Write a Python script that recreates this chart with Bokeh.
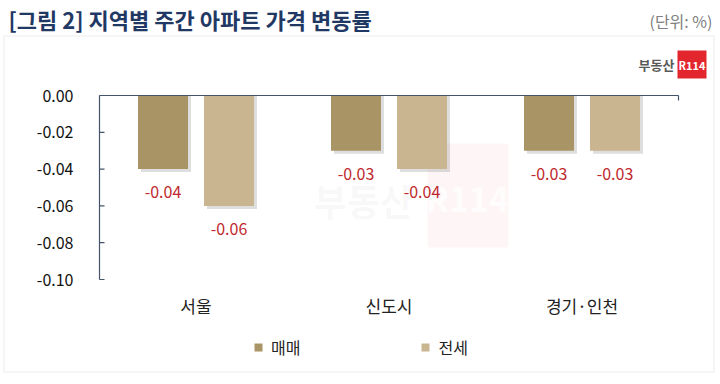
from bokeh.plotting import figure
from bokeh.models import (Range1d, ColumnDataSource, Label, BoxAnnotation,
                          Legend, LegendItem)
from bokeh.core.properties import value
from bokeh.transform import dodge
from bokeh.embed import file_html
from bokeh.resources import INLINE

# ---- data ----
categories = ["서울", "신도시", "경기·인천"]
sale = [-0.04, -0.03, -0.03]      # 매매
jeonse = [-0.06, -0.04, -0.03]    # 전세
y_ticks = [0.0, -0.02, -0.04, -0.06, -0.08, -0.10]
title_text = "[그림 2] 지역별 주간 아파트 가격 변동률"
unit_text = "(단위: %)"
series_names = ["매매", "전세"]

# ---- layout constants (pixels) ----
W_PX, H_PX = 720, 384
PLOT_L, PLOT_R = 99, 678          # plot area left/right
Y_TOP_PX, Y_BOT_PX = 95, 279      # pixel rows of y = 0 and y = -0.10
Y_TOP_V, Y_BOT_V = max(y_ticks), min(y_ticks)

FONT = "Noto Sans CJK KR"
C_SALE = "#A99465"
C_JEONSE = "#C9B590"
C_LABEL = "#C0282D"
C_AXIS = "#44546A"

cat_w = (PLOT_R - PLOT_L) / len(categories)
px_per_v = (Y_BOT_PX - Y_TOP_PX) / (Y_TOP_V - Y_BOT_V)

p = figure(width=W_PX, height=H_PX, x_range=Range1d(0, W_PX), y_range=Range1d(H_PX, 0),
           output_backend="svg", toolbar_location=None,
           x_axis_location=None, y_axis_location=None,
           min_border=0, min_border_left=0, min_border_right=0,
           min_border_top=0, min_border_bottom=0)
p.outline_line_color = None
p.xgrid.grid_line_color = None
p.ygrid.grid_line_color = None
p.background_fill_color = "white"
p.border_fill_color = "white"

# data coordinate systems: categories (index units) and values
p.extra_x_ranges = {"c": Range1d(-PLOT_L / cat_w, (W_PX - PLOT_L) / cat_w)}
p.extra_y_ranges = {"v": Range1d(Y_BOT_V - (H_PX - Y_BOT_PX) / px_per_v,
                                 Y_TOP_V + Y_TOP_PX / px_per_v)}

pos = [i + 0.5 for i in range(len(categories))]
src = ColumnDataSource(dict(
    pos=pos, cat=categories, sale=sale, jeonse=jeonse,
    sale_txt=["%.2f" % v for v in sale],
    jeonse_txt=["%.2f" % v for v in jeonse],
    sale_sh=[v - 3 / px_per_v for v in sale],
    jeonse_sh=[v - 3 / px_per_v for v in jeonse],
))

# ---- outer border ----
p.add_layout(BoxAnnotation(left=3.5, right=713.5, top=35.5, bottom=371.5,
                           fill_alpha=0, line_color="#BFBFBF", line_width=1,
                           level="underlay"))

# ---- watermark (behind the chart) ----
p.add_layout(BoxAnnotation(left=427, right=508, top=143, bottom=247,
                           fill_color="#E03030", fill_alpha=0.045, line_color=None,
                           level="underlay"))
p.add_layout(Label(x=363, y=199, text="부동산", text_align="center",
                   text_baseline="middle", text_font=FONT, text_font_style="bold",
                   text_font_size="36px", text_color="#999999", text_alpha=0.07,
                   level="underlay"))
p.add_layout(Label(x=467, y=197, text="R114", text_align="center",
                   text_baseline="middle", text_font=FONT, text_font_style="bold",
                   text_font_size="34px", text_color="#FFFFFF", text_alpha=0.7,
                   level="underlay"))

# ---- bars ----
OFF = 33 / cat_w
BW = 50 / cat_w
SH = 3 / cat_w
p.vbar(x=dodge("pos", -OFF + SH), top=0, bottom="sale_sh", width=BW, source=src,
       x_range_name="c", y_range_name="v",
       fill_color="#000000", fill_alpha=0.13, line_color=None)
p.vbar(x=dodge("pos", OFF + SH), top=0, bottom="jeonse_sh", width=BW, source=src,
       x_range_name="c", y_range_name="v",
       fill_color="#000000", fill_alpha=0.13, line_color=None)
r1 = p.vbar(x=dodge("pos", -OFF), top=0, bottom="sale", width=BW, source=src,
            x_range_name="c", y_range_name="v", fill_color=C_SALE, line_color=None)
r2 = p.vbar(x=dodge("pos", OFF), top=0, bottom="jeonse", width=BW, source=src,
            x_range_name="c", y_range_name="v", fill_color=C_JEONSE, line_color=None)

# value labels
for col, off in (("sale", -OFF), ("jeonse", OFF)):
    p.text(x=dodge("pos", off), y=col, text=col + "_txt", source=src,
           x_range_name="c", y_range_name="v", y_offset=23,
           text_align="center", text_baseline="middle",
           text_font=value(FONT), text_font_size="16px", text_color=C_LABEL)

# ---- y axis ----
n = len(categories)
p.segment(x0=0, x1=0, y0=Y_BOT_V, y1=Y_TOP_V, x_range_name="c", y_range_name="v",
          line_color=C_AXIS, line_width=1.2)
p.segment(x0=[0] * len(y_ticks), x1=[5 / cat_w] * len(y_ticks), y0=y_ticks, y1=y_ticks,
          x_range_name="c", y_range_name="v", line_color=C_AXIS, line_width=1.2)
p.text(x=[0] * len(y_ticks), y=y_ticks, text=["%.2f" % t for t in y_ticks],
       x_range_name="c", y_range_name="v", x_offset=-26,
       text_align="right", text_baseline="middle",
       text_font=value(FONT), text_font_size="16px", text_color="#111111")

# ---- category axis (at y = 0) ----
p.segment(x0=0, x1=n, y0=0, y1=0, x_range_name="c", y_range_name="v",
          line_color=C_AXIS, line_width=1.2)
p.segment(x0=n, x1=n, y0=0, y1=-5 / px_per_v, x_range_name="c", y_range_name="v",
          line_color=C_AXIS, line_width=1.2)
p.text(x=pos, y=[Y_BOT_V] * n, text=categories, x_range_name="c", y_range_name="v",
       y_offset=26, text_align="center", text_baseline="middle",
       text_font=value(FONT), text_font_size="17px", text_color="#222222")

# ---- title & unit ----
p.add_layout(Label(x=8, y=18, text=title_text, text_align="left",
                   text_baseline="middle", text_font=FONT, text_font_style="bold",
                   text_font_size="22px", text_color="#1F3864"))
p.add_layout(Label(x=712, y=20, text=unit_text, text_align="right",
                   text_baseline="middle", text_font=FONT,
                   text_font_size="16px", text_color="#808080"))

# ---- logo ----
p.add_layout(Label(x=674, y=64, text="부동산", text_align="right",
                   text_baseline="middle", text_font=FONT, text_font_style="bold",
                   text_font_size="13px", text_color="#595959"))
p.add_layout(BoxAnnotation(left=677, right=706, top=50, bottom=78,
                           fill_color="#E3262E", fill_alpha=1, line_color=None))
p.add_layout(Label(x=691.5, y=64, text="R114", text_align="center",
                   text_baseline="middle", text_font=FONT, text_font_style="bold",
                   text_font_size="11px", text_color="white"))

# ---- legend ----
legend = Legend(items=[LegendItem(label=series_names[0], renderers=[r1]),
                       LegendItem(label=series_names[1], renderers=[r2])],
                location=(253, H_PX - 358.5), orientation="horizontal",
                glyph_width=10, glyph_height=10, label_standoff=8, spacing=120,
                label_height=22, padding=0, margin=0, border_line_color=None,
                background_fill_alpha=0, label_text_font=FONT,
                label_text_font_size="16px", label_text_color="#222222")
p.add_layout(legend)

open("out.html", "w").write(file_html(p, INLINE))
